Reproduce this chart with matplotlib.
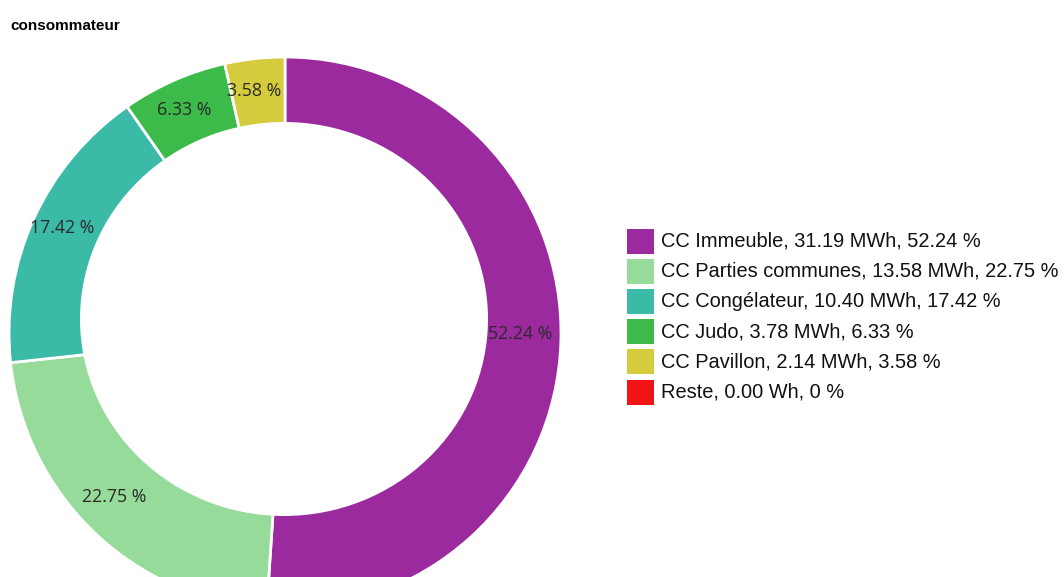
import matplotlib
matplotlib.use("Agg")
import matplotlib.pyplot as plt
from matplotlib.patches import Rectangle, Ellipse
import numpy as np

# Data
categories = ["CC Immeuble", "CC Parties communes", "CC Congélateur", "CC Judo", "CC Pavillon", "Reste"]
energy_values = [31.19, 13.58, 10.40, 3.78, 2.14, 0.0]
energy_units = ["MWh", "MWh", "MWh", "MWh", "MWh", "Wh"]
percent_labels = ["52.24", "22.75", "17.42", "6.33", "3.58", "0"]
colors = ["#9b2a9f", "#96db9a", "#3cbaa8", "#3cba4a", "#d4cc3c", "#f01414"]

W, H = 1064, 577
fig = plt.figure(figsize=(W / 100, H / 100), dpi=100)
ax = fig.add_axes([0, 0, 1, 1])

# pie geometry in pixels (outer ring)
cx, cy_top, R = 285.0, 333.0, 276.0
cy = H - cy_top

def set_limits():
    ax.set_xlim(-cx / R, (W - cx) / R)
    ax.set_ylim(-cy / R, (H - cy) / R)
    ax.set_aspect("equal")
    ax.axis("off")

draw_vals = energy_values[:5]
ax.pie(draw_vals, colors=colors[:5], startangle=90, counterclock=False,
       radius=1.0, center=(0, 0), frame=True,
       wedgeprops=dict(edgecolor="white", linewidth=2))
set_limits()

# donut hole (slightly off-centre as in the reference)
hole_cx, hole_cy = (284.0 - cx) / R, (cy_top - 319.0) / R
hole_rx, hole_ry = 204 / R, 197 / R
ax.add_patch(Ellipse((hole_cx, hole_cy), 2 * hole_rx, 2 * hole_ry,
                     facecolor="white", edgecolor="none", zorder=5))

total = sum(draw_vals)
start = 90.0
for v, p in zip(draw_vals, percent_labels[:5]):
    sweep = v / total * 360.0
    mid = np.deg2rad(start - sweep / 2)
    ox, oy = np.cos(mid), np.sin(mid)
    ix, iy = hole_cx + hole_rx * np.cos(mid), hole_cy + hole_ry * np.sin(mid)
    lx, ly = (ox + ix) / 2 - 4 / R, (oy + iy) / 2
    ax.text(lx, ly, f"{p} %",
            ha="center", va="center", fontsize=12.8, color="#2a2a2a",
            family=["Open Sans", "DejaVu Sans"], zorder=6)
    start -= sweep

# Title
fig.text(10 / W, 1 - 26 / H, "consommateur", fontsize=11, fontweight="bold",
         family=["Liberation Sans", "DejaVu Sans"], va="center", ha="left")

# Legend (manual)
y0 = 241
dy = 30.2
for i in range(len(categories)):
    yc = y0 + i * dy
    fig.patches.append(Rectangle((627 / W, 1 - (yc + 12.5) / H), 27 / W, 25 / H,
                                 transform=fig.transFigure, facecolor=colors[i],
                                 edgecolor="none"))
    fig.text(661 / W, 1 - yc / H,
             f"{categories[i]}, {energy_values[i]:.2f} {energy_units[i]}, {percent_labels[i]} %",
             fontsize=14.4, va="center", ha="left", color="#111111",
             family=["Liberation Sans", "DejaVu Sans"])

fig.savefig("out.png", dpi=100, facecolor="white")
